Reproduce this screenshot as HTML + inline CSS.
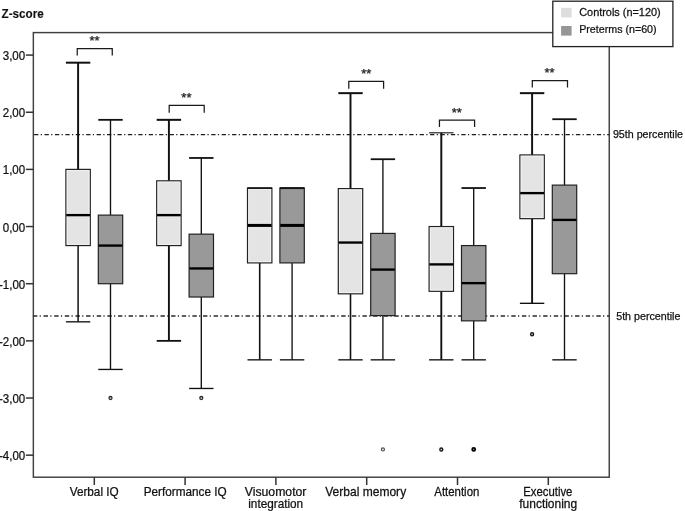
<!DOCTYPE html>
<html><head><meta charset="utf-8"><title>Z-score box plot</title>
<style>
html,body{margin:0;padding:0;background:#fff;}
body{width:685px;height:511px;overflow:hidden;position:relative;font-family:"Liberation Sans",sans-serif;}
svg{position:absolute;left:0;top:0;display:block;will-change:transform;filter:blur(0.42px);}
text{font-family:"Liberation Sans",sans-serif;fill:#111111;stroke:#111111;stroke-width:0.25px;}
</style></head><body>
<svg width="685" height="511" viewBox="0 0 685 511">
<rect x="0" y="0" width="685" height="511" fill="#ffffff"/>
<rect x="33.35" y="32.60" width="575.90" height="444.60" fill="none" stroke="#404040" stroke-width="1.45"/>
<line x1="34.10" y1="134.55" x2="609.25" y2="134.55" stroke="#1c1c1c" stroke-width="1.2" stroke-dasharray="4.3 2.35 1.2 2.57"/>
<line x1="32.94" y1="315.95" x2="609.25" y2="315.95" stroke="#2a2a2a" stroke-width="1.35" stroke-dasharray="4.4 2.3 1.2 2.73"/>
<line x1="25.90" y1="55.08" x2="33.35" y2="55.08" stroke="#333" stroke-width="1.5"/>
<text transform="translate(25.20 60.13) scale(0.9460 1)" font-size="12.20" text-anchor="end">3,00</text>
<line x1="25.90" y1="112.24" x2="33.35" y2="112.24" stroke="#333" stroke-width="1.5"/>
<text transform="translate(25.20 117.29) scale(0.9460 1)" font-size="12.20" text-anchor="end">2,00</text>
<line x1="25.90" y1="169.39" x2="33.35" y2="169.39" stroke="#333" stroke-width="1.5"/>
<text transform="translate(25.20 174.44) scale(0.9460 1)" font-size="12.20" text-anchor="end">1,00</text>
<line x1="25.90" y1="226.55" x2="33.35" y2="226.55" stroke="#333" stroke-width="1.5"/>
<text transform="translate(25.20 231.60) scale(0.9460 1)" font-size="12.20" text-anchor="end">0,00</text>
<line x1="25.90" y1="283.71" x2="33.35" y2="283.71" stroke="#333" stroke-width="1.5"/>
<text transform="translate(25.20 288.76) scale(0.9460 1)" font-size="12.20" text-anchor="end">-1,00</text>
<line x1="25.90" y1="340.86" x2="33.35" y2="340.86" stroke="#333" stroke-width="1.5"/>
<text transform="translate(25.20 345.91) scale(0.9460 1)" font-size="12.20" text-anchor="end">-2,00</text>
<line x1="25.90" y1="398.02" x2="33.35" y2="398.02" stroke="#333" stroke-width="1.5"/>
<text transform="translate(25.20 403.07) scale(0.9460 1)" font-size="12.20" text-anchor="end">-3,00</text>
<line x1="25.90" y1="455.17" x2="33.35" y2="455.17" stroke="#333" stroke-width="1.5"/>
<text transform="translate(25.20 460.22) scale(0.9460 1)" font-size="12.20" text-anchor="end">-4,00</text>
<line x1="94.30" y1="477.20" x2="94.30" y2="485.00" stroke="#333" stroke-width="1.5"/>
<text transform="translate(94.20 495.90) scale(0.9650 1)" font-size="12.20" text-anchor="middle">Verbal IQ</text>
<line x1="185.10" y1="477.20" x2="185.10" y2="485.00" stroke="#333" stroke-width="1.5"/>
<text transform="translate(185.20 495.90) scale(0.9650 1)" font-size="12.20" text-anchor="middle">Performance IQ</text>
<line x1="275.90" y1="477.20" x2="275.90" y2="485.00" stroke="#333" stroke-width="1.5"/>
<text transform="translate(275.60 495.90) scale(1.0030 1)" font-size="12.20" text-anchor="middle">Visuomotor</text>
<text transform="translate(275.70 507.90) scale(0.9650 1)" font-size="12.20" text-anchor="middle">integration</text>
<line x1="366.70" y1="477.20" x2="366.70" y2="485.00" stroke="#333" stroke-width="1.5"/>
<text transform="translate(365.70 495.90) scale(0.9870 1)" font-size="12.20" text-anchor="middle">Verbal memory</text>
<line x1="457.50" y1="477.20" x2="457.50" y2="485.00" stroke="#333" stroke-width="1.5"/>
<text transform="translate(456.80 495.90) scale(0.9370 1)" font-size="12.20" text-anchor="middle">Attention</text>
<line x1="548.30" y1="477.20" x2="548.30" y2="485.00" stroke="#333" stroke-width="1.5"/>
<text transform="translate(547.80 495.90) scale(0.9290 1)" font-size="12.20" text-anchor="middle">Executive</text>
<text transform="translate(548.20 507.90) scale(0.9830 1)" font-size="12.20" text-anchor="middle">functioning</text>
<line x1="78.10" y1="62.68" x2="78.10" y2="169.39" stroke="#111111" stroke-width="1.95"/>
<line x1="65.90" y1="62.68" x2="90.30" y2="62.68" stroke="#111111" stroke-width="2.00"/>
<line x1="78.10" y1="245.58" x2="78.10" y2="321.83" stroke="#111111" stroke-width="1.50"/>
<line x1="65.90" y1="321.83" x2="90.30" y2="321.83" stroke="#111111" stroke-width="1.35"/>
<rect x="65.90" y="169.39" width="24.40" height="76.19" fill="#e4e4e4" stroke="#222222" stroke-width="1.2"/>
<rect x="67.15" y="170.64" width="21.90" height="73.69" fill="none" stroke="#fff" stroke-opacity="0.55" stroke-width="1"/>
<line x1="66.20" y1="215.12" x2="90.00" y2="215.12" stroke="#000" stroke-width="2.35"/>
<line x1="110.50" y1="119.84" x2="110.50" y2="215.12" stroke="#111111" stroke-width="1.35"/>
<line x1="98.30" y1="119.84" x2="122.70" y2="119.84" stroke="#111111" stroke-width="1.80"/>
<line x1="110.50" y1="283.71" x2="110.50" y2="369.44" stroke="#111111" stroke-width="1.35"/>
<line x1="98.30" y1="369.44" x2="122.70" y2="369.44" stroke="#111111" stroke-width="1.35"/>
<rect x="98.30" y="215.12" width="24.40" height="68.59" fill="#999999" stroke="#222222" stroke-width="1.2"/>
<line x1="98.60" y1="245.58" x2="122.40" y2="245.58" stroke="#000" stroke-width="2.35"/>
<circle cx="110.50" cy="398.02" r="1.50" fill="#e8e8e8" stroke="#2a2a2a" stroke-width="1.30"/>
<line x1="168.90" y1="119.84" x2="168.90" y2="180.83" stroke="#111111" stroke-width="1.95"/>
<line x1="156.70" y1="119.84" x2="181.10" y2="119.84" stroke="#111111" stroke-width="2.00"/>
<line x1="168.90" y1="245.58" x2="168.90" y2="340.86" stroke="#111111" stroke-width="1.90"/>
<line x1="156.70" y1="340.86" x2="181.10" y2="340.86" stroke="#111111" stroke-width="1.80"/>
<rect x="156.70" y="180.83" width="24.40" height="64.76" fill="#e4e4e4" stroke="#222222" stroke-width="1.2"/>
<rect x="157.95" y="182.08" width="21.90" height="62.26" fill="none" stroke="#fff" stroke-opacity="0.55" stroke-width="1"/>
<line x1="157.00" y1="215.12" x2="180.80" y2="215.12" stroke="#000" stroke-width="2.35"/>
<line x1="201.30" y1="157.96" x2="201.30" y2="234.15" stroke="#111111" stroke-width="1.35"/>
<line x1="189.10" y1="157.96" x2="213.50" y2="157.96" stroke="#111111" stroke-width="1.80"/>
<line x1="201.30" y1="297.02" x2="201.30" y2="388.47" stroke="#111111" stroke-width="1.35"/>
<line x1="189.10" y1="388.47" x2="213.50" y2="388.47" stroke="#111111" stroke-width="1.35"/>
<rect x="189.10" y="234.15" width="24.40" height="62.87" fill="#999999" stroke="#222222" stroke-width="1.2"/>
<line x1="189.40" y1="268.45" x2="213.20" y2="268.45" stroke="#000" stroke-width="2.35"/>
<circle cx="201.30" cy="398.02" r="1.50" fill="#e8e8e8" stroke="#2a2a2a" stroke-width="1.30"/>
<line x1="259.70" y1="262.90" x2="259.70" y2="359.84" stroke="#111111" stroke-width="1.60"/>
<line x1="247.50" y1="359.84" x2="271.90" y2="359.84" stroke="#111111" stroke-width="1.35"/>
<rect x="247.50" y="188.03" width="24.40" height="74.87" fill="#e4e4e4" stroke="#222222" stroke-width="1.2"/>
<rect x="248.75" y="189.28" width="21.90" height="72.37" fill="none" stroke="#fff" stroke-opacity="0.55" stroke-width="1"/>
<line x1="247.50" y1="188.13" x2="271.90" y2="188.13" stroke="#111111" stroke-width="1.60"/>
<line x1="247.80" y1="225.41" x2="271.60" y2="225.41" stroke="#000" stroke-width="3.00"/>
<line x1="292.10" y1="262.90" x2="292.10" y2="359.84" stroke="#111111" stroke-width="1.35"/>
<line x1="279.90" y1="359.84" x2="304.30" y2="359.84" stroke="#111111" stroke-width="1.35"/>
<rect x="279.90" y="188.03" width="24.40" height="74.87" fill="#999999" stroke="#222222" stroke-width="1.2"/>
<line x1="279.90" y1="188.13" x2="304.30" y2="188.13" stroke="#111111" stroke-width="1.90"/>
<line x1="280.20" y1="225.41" x2="304.00" y2="225.41" stroke="#000" stroke-width="3.00"/>
<line x1="350.50" y1="93.15" x2="350.50" y2="188.60" stroke="#111111" stroke-width="1.95"/>
<line x1="338.30" y1="93.15" x2="362.70" y2="93.15" stroke="#111111" stroke-width="2.00"/>
<line x1="350.50" y1="293.82" x2="350.50" y2="359.84" stroke="#111111" stroke-width="1.60"/>
<line x1="338.30" y1="359.84" x2="362.70" y2="359.84" stroke="#111111" stroke-width="1.35"/>
<rect x="338.30" y="188.60" width="24.40" height="105.22" fill="#e4e4e4" stroke="#222222" stroke-width="1.2"/>
<rect x="339.55" y="189.85" width="21.90" height="102.72" fill="none" stroke="#fff" stroke-opacity="0.55" stroke-width="1"/>
<line x1="338.60" y1="242.55" x2="362.40" y2="242.55" stroke="#000" stroke-width="2.35"/>
<line x1="382.90" y1="159.22" x2="382.90" y2="233.41" stroke="#111111" stroke-width="1.35"/>
<line x1="370.70" y1="159.22" x2="395.10" y2="159.22" stroke="#111111" stroke-width="1.80"/>
<line x1="382.90" y1="315.60" x2="382.90" y2="359.84" stroke="#111111" stroke-width="1.35"/>
<line x1="370.70" y1="359.84" x2="395.10" y2="359.84" stroke="#111111" stroke-width="1.35"/>
<rect x="370.70" y="233.41" width="24.40" height="82.19" fill="#999999" stroke="#222222" stroke-width="1.2"/>
<line x1="371.00" y1="269.59" x2="394.80" y2="269.59" stroke="#000" stroke-width="2.35"/>
<circle cx="382.90" cy="449.46" r="1.55" fill="#e4e4e4" stroke="#505050" stroke-width="1.15"/>
<line x1="441.30" y1="132.81" x2="441.30" y2="226.55" stroke="#111111" stroke-width="1.95"/>
<line x1="429.10" y1="132.81" x2="453.50" y2="132.81" stroke="#111111" stroke-width="1.10"/>
<line x1="441.30" y1="291.31" x2="441.30" y2="359.84" stroke="#111111" stroke-width="1.90"/>
<line x1="429.10" y1="359.84" x2="453.50" y2="359.84" stroke="#111111" stroke-width="1.35"/>
<rect x="429.10" y="226.55" width="24.40" height="64.76" fill="#e4e4e4" stroke="#222222" stroke-width="1.2"/>
<rect x="430.35" y="227.80" width="21.90" height="62.26" fill="none" stroke="#fff" stroke-opacity="0.55" stroke-width="1"/>
<line x1="429.40" y1="264.39" x2="453.20" y2="264.39" stroke="#000" stroke-width="2.35"/>
<circle cx="441.30" cy="449.46" r="1.50" fill="#dddddd" stroke="#1a1a1a" stroke-width="1.35"/>
<line x1="473.70" y1="188.03" x2="473.70" y2="245.58" stroke="#111111" stroke-width="1.35"/>
<line x1="461.50" y1="188.03" x2="485.90" y2="188.03" stroke="#111111" stroke-width="1.80"/>
<line x1="473.70" y1="320.86" x2="473.70" y2="359.84" stroke="#111111" stroke-width="1.35"/>
<line x1="461.50" y1="359.84" x2="485.90" y2="359.84" stroke="#111111" stroke-width="1.35"/>
<rect x="461.50" y="245.58" width="24.40" height="75.27" fill="#999999" stroke="#222222" stroke-width="1.2"/>
<line x1="461.80" y1="283.13" x2="485.60" y2="283.13" stroke="#000" stroke-width="2.35"/>
<circle cx="473.70" cy="449.46" r="1.50" fill="#aaaaaa" stroke="#000" stroke-width="1.80"/>
<line x1="532.10" y1="93.15" x2="532.10" y2="154.93" stroke="#111111" stroke-width="1.95"/>
<line x1="519.90" y1="93.15" x2="544.30" y2="93.15" stroke="#111111" stroke-width="2.00"/>
<line x1="532.10" y1="218.66" x2="532.10" y2="303.31" stroke="#111111" stroke-width="1.90"/>
<line x1="519.90" y1="303.31" x2="544.30" y2="303.31" stroke="#111111" stroke-width="1.35"/>
<rect x="519.90" y="154.93" width="24.40" height="63.73" fill="#e4e4e4" stroke="#222222" stroke-width="1.2"/>
<rect x="521.15" y="156.18" width="21.90" height="61.23" fill="none" stroke="#fff" stroke-opacity="0.55" stroke-width="1"/>
<line x1="520.20" y1="193.11" x2="544.00" y2="193.11" stroke="#000" stroke-width="2.35"/>
<circle cx="532.10" cy="334.23" r="1.50" fill="#dddddd" stroke="#1a1a1a" stroke-width="1.35"/>
<line x1="564.50" y1="119.21" x2="564.50" y2="185.11" stroke="#111111" stroke-width="1.35"/>
<line x1="552.30" y1="119.21" x2="576.70" y2="119.21" stroke="#111111" stroke-width="1.80"/>
<line x1="564.50" y1="273.70" x2="564.50" y2="359.84" stroke="#111111" stroke-width="1.35"/>
<line x1="552.30" y1="359.84" x2="576.70" y2="359.84" stroke="#111111" stroke-width="1.35"/>
<rect x="552.30" y="185.11" width="24.40" height="88.59" fill="#999999" stroke="#222222" stroke-width="1.2"/>
<line x1="552.60" y1="219.92" x2="576.40" y2="219.92" stroke="#000" stroke-width="2.35"/>
<path d="M77.25 55.60 V48.50 H112.25 V55.60" fill="none" stroke="#1a1a1a" stroke-width="1.25"/>
<text transform="translate(94.60 45.00) scale(1.0000 1)" font-size="13.00" text-anchor="middle" style="fill:#222">**</text>
<path d="M169.20 112.70 V105.40 H204.20 V112.70" fill="none" stroke="#1a1a1a" stroke-width="1.25"/>
<text transform="translate(186.40 102.00) scale(1.0000 1)" font-size="13.00" text-anchor="middle" style="fill:#222">**</text>
<path d="M348.80 88.80 V81.40 H383.60 V88.80" fill="none" stroke="#1a1a1a" stroke-width="1.25"/>
<text transform="translate(366.20 78.00) scale(1.0000 1)" font-size="13.00" text-anchor="middle" style="fill:#222">**</text>
<path d="M439.45 127.00 V120.10 H474.60 V127.00" fill="none" stroke="#1a1a1a" stroke-width="1.25"/>
<text transform="translate(456.80 117.00) scale(1.0000 1)" font-size="13.00" text-anchor="middle" style="fill:#222">**</text>
<path d="M532.30 87.60 V80.60 H567.50 V87.60" fill="none" stroke="#1a1a1a" stroke-width="1.25"/>
<text transform="translate(549.50 77.00) scale(1.0000 1)" font-size="13.00" text-anchor="middle" style="fill:#222">**</text>
<text transform="translate(1.50 18.00) scale(0.9820 1)" font-size="11.90" text-anchor="start" font-weight="bold" style="stroke-width:0.12px">Z-score</text>
<rect x="552.8" y="1.2" width="120.1" height="45.4" fill="#fff" stroke="#222" stroke-width="1.3"/>
<rect x="561.1" y="7.8" width="10.5" height="9.6" fill="#dddddd"/>
<rect x="561.1" y="26.0" width="10.5" height="9.6" fill="#969696"/>
<text transform="translate(579.20 15.70) scale(0.9925 1)" font-size="11.00" text-anchor="start">Controls (n=120)</text>
<text transform="translate(579.20 32.70) scale(0.9720 1)" font-size="11.00" text-anchor="start">Preterms (n=60)</text>
<text transform="translate(612.90 137.70) scale(1.0000 1)" font-size="10.70" text-anchor="start">95th percentile</text>
<text transform="translate(616.20 320.40) scale(1.0000 1)" font-size="10.70" text-anchor="start">5th percentile</text>
</svg>
</body></html>
